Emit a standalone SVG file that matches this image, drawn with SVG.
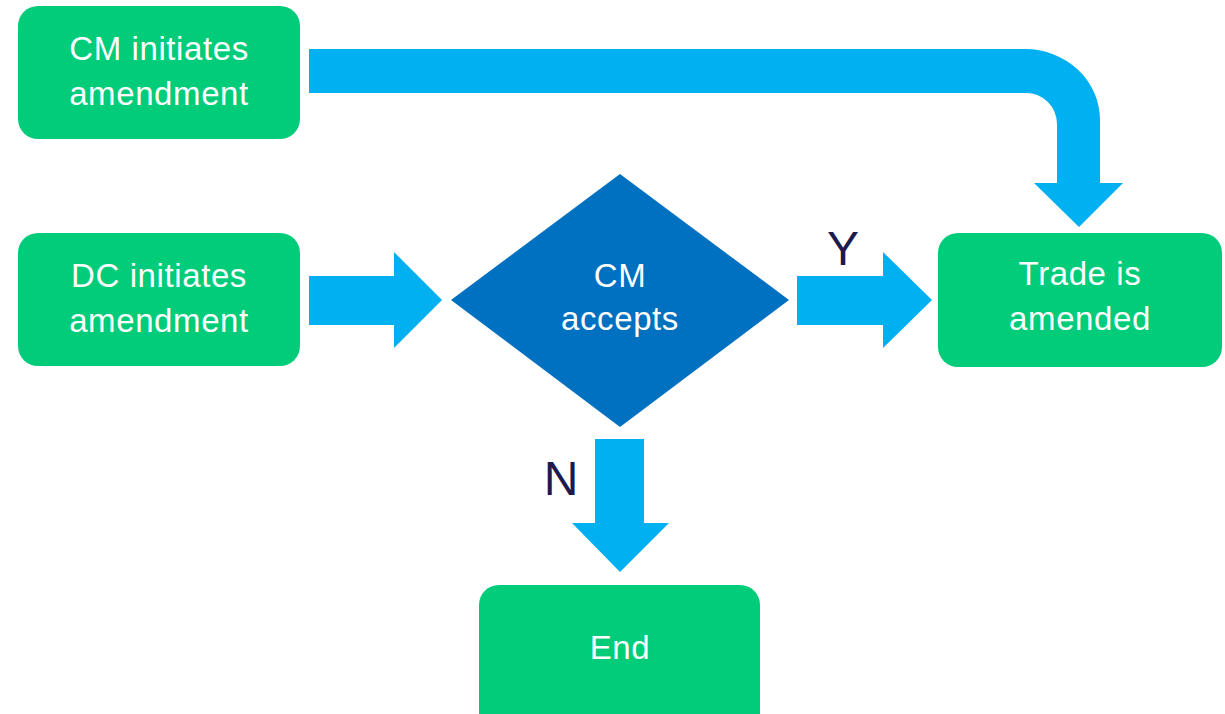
<svg xmlns="http://www.w3.org/2000/svg" width="1225" height="714" viewBox="0 0 1225 714">
  <style>
    .box { fill: #00CC7A; }
    .dec { fill: #0070C0; }
    .arrow { fill: #00B0F0; }
    .t { font-family: "Liberation Sans", Arial, sans-serif; font-size: 33px; letter-spacing: 0.6px; fill: #FFFFFF; text-anchor: middle; }
    .lbl { font-family: "Liberation Sans", Arial, sans-serif; font-size: 48px; fill: #1B1B4F; text-anchor: middle; }
  </style>
  <rect width="1225" height="714" fill="#FFFFFF"/>
  <g id="connectors">
    <path class="arrow" d="M309,49 H1025 A75,71 0 0 1 1100,120 V183 H1123 L1079,227 L1034,183 H1057 V124 A31,31 0 0 0 1026,93 H309 Z"/>
    <path class="arrow" d="M309,276 H394 V252 L442,300 L394,348 V325 H309 Z"/>
    <path class="arrow" d="M797,276 H883 V252 L932,300 L883,348 V325 H797 Z"/>
    <path class="arrow" d="M595,439 H644 V523 H669 L620,572 L572,523 H595 Z"/>
    <text class="lbl" x="843" y="265">Y</text>
    <text class="lbl" x="561" y="495">N</text>
  </g>
  <g id="cm-initiates">
    <rect class="box" x="18" y="6" width="282" height="133" rx="20"/>
    <text class="t" x="159" y="60">CM initiates</text>
    <text class="t" x="159" y="105">amendment</text>
  </g>
  <g id="dc-initiates">
    <rect class="box" x="18" y="233" width="282" height="133" rx="20"/>
    <text class="t" x="159" y="287">DC initiates</text>
    <text class="t" x="159" y="332">amendment</text>
  </g>
  <g id="cm-accepts">
    <polygon class="dec" points="620,174 789,300 620,427 451,300"/>
    <text class="t" x="620" y="287">CM</text>
    <text class="t" x="620" y="330">accepts</text>
  </g>
  <g id="trade-amended">
    <rect class="box" x="938" y="233" width="284" height="134" rx="20"/>
    <text class="t" x="1080" y="285">Trade is</text>
    <text class="t" x="1080" y="330">amended</text>
  </g>
  <g id="end">
    <rect class="box" x="479" y="585" width="281" height="150" rx="20"/>
    <text class="t" x="620" y="659">End</text>
  </g>
</svg>
